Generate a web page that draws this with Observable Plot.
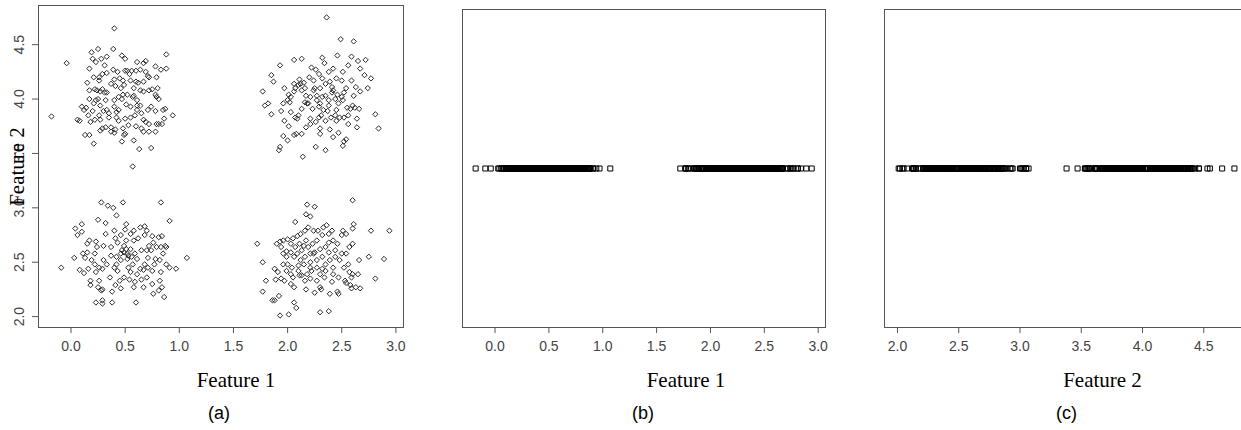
<!DOCTYPE html>
<html>
<head>
<meta charset="utf-8">
<script src="https://cdn.jsdelivr.net/npm/d3@7"></script>
<script src="https://cdn.jsdelivr.net/npm/@observablehq/plot@0.6"></script>
<style>
  html, body { margin: 0; padding: 0; background: #fff; overflow: hidden; }
  #wrap { position: relative; width: 1241px; height: 430px; overflow: hidden; background: #fff; }
  #wrap svg { position: absolute; top: 0; }
</style>
</head>
<body>
<div id="wrap"></div>
<script>
// ---- data: [Feature 1, Feature 2] per point ----
const clusterUpperLeft = [
  [0.40,4.65],[0.19,4.43],[0.39,4.46],[0.25,4.46],[0.88,4.41],[0.20,4.37],[0.28,4.37],[0.47,4.40],
  [0.50,4.37],[0.33,4.39],[-0.04,4.33],[0.17,4.28],[0.23,4.34],[0.61,4.34],[0.67,4.33],[0.69,4.35],
  [0.78,4.30],[0.88,4.28],[0.83,4.27],[0.31,4.31],[0.33,4.24],[0.43,4.25],[0.50,4.26],[0.52,4.26],
  [0.56,4.26],[0.60,4.26],[0.54,4.23],[0.64,4.27],[0.69,4.25],[0.71,4.21],[0.72,4.20],[0.21,4.20],
  [0.26,4.20],[0.39,4.27],[0.29,4.23],[0.45,4.19],[0.48,4.17],[0.40,4.18],[0.55,4.17],[0.60,4.16],
  [0.62,4.15],[0.67,4.16],[0.79,4.20],[0.26,4.17],[0.37,4.14],[0.24,4.08],[0.15,4.15],[0.29,4.09],
  [0.41,4.12],[0.49,4.13],[0.58,4.10],[0.17,4.08],[0.22,4.09],[0.27,4.07],[0.31,4.06],[0.33,4.06],
  [0.46,4.10],[0.52,4.04],[0.57,4.02],[0.58,4.03],[0.61,3.99],[0.64,4.08],[0.67,4.07],[0.75,4.09],
  [0.78,4.04],[0.79,4.02],[0.81,4.00],[0.80,4.10],[0.72,4.08],[0.23,3.99],[0.17,4.00],[0.10,3.93],
  [0.14,3.92],[0.21,3.96],[0.25,4.00],[0.44,4.02],[0.47,4.00],[0.40,3.99],[0.48,4.04],[0.32,3.99],
  [0.12,3.90],[0.20,3.89],[0.27,3.94],[0.33,3.90],[0.40,3.93],[0.44,3.90],[0.51,3.95],[0.55,3.93],
  [0.61,3.94],[0.61,3.90],[0.64,3.94],[0.65,3.87],[0.71,3.90],[0.74,3.93],[0.78,3.89],[0.85,3.90],
  [0.87,3.91],[0.30,3.89],[0.35,3.87],[0.42,3.88],[0.26,3.85],[0.06,3.81],[0.08,3.80],[0.22,3.81],
  [0.16,3.85],[0.35,3.83],[0.42,3.83],[0.44,3.80],[0.50,3.82],[0.55,3.83],[0.59,3.85],[0.67,3.81],
  [0.69,3.79],[0.79,3.77],[0.81,3.77],[0.84,3.77],[0.86,3.82],[0.94,3.85],[0.18,3.79],[0.27,3.81],
  [0.29,3.73],[0.32,3.74],[0.37,3.74],[0.41,3.72],[0.48,3.73],[0.53,3.76],[0.60,3.75],[0.65,3.73],
  [0.72,3.77],[0.27,3.71],[0.37,3.70],[0.40,3.69],[0.49,3.67],[0.50,3.68],[0.67,3.70],[0.72,3.70],
  [0.78,3.70],[0.17,3.67],[0.13,3.67],[0.21,3.59],[0.47,3.61],[0.58,3.62],[0.63,3.54],[0.74,3.55],
  [0.57,3.38],[-0.18,3.84]
];
const clusterUpperRight = [
  [2.36,4.75],[2.49,4.55],[2.61,4.53],[2.32,4.38],[2.06,4.36],[2.13,4.37],[1.93,4.31],[1.85,4.22],
  [1.77,4.07],[1.79,3.94],[1.82,3.96],[1.85,3.86],[1.87,4.16],[1.97,4.10],[2.03,4.02],[2.06,4.07],
  [2.10,4.13],[2.13,4.08],[2.17,4.03],[2.22,4.29],[2.26,4.27],[2.34,4.33],[2.38,4.25],[2.42,4.28],
  [2.46,4.40],[2.51,4.25],[2.56,4.31],[2.59,4.39],[2.65,4.35],[2.72,4.36],[2.67,4.28],[2.71,4.22],
  [2.59,4.17],[2.63,4.11],[2.61,4.03],[2.54,4.10],[2.50,4.17],[2.45,4.19],[2.41,4.11],[2.32,4.19],
  [2.29,4.23],[2.24,4.17],[2.20,4.20],[2.15,4.15],[2.11,4.18],[2.07,4.10],[2.01,4.04],[2.00,3.99],
  [1.94,3.89],[1.97,3.80],[2.01,3.75],[2.07,3.83],[2.08,3.68],[2.10,3.85],[2.13,3.91],[2.16,3.97],
  [2.19,3.96],[2.23,3.91],[2.27,3.99],[2.29,3.93],[2.32,4.02],[2.35,4.03],[2.38,3.99],[2.41,4.06],
  [2.44,4.00],[2.47,3.96],[2.51,3.99],[2.55,3.92],[2.58,3.91],[2.62,3.92],[2.64,3.82],[2.66,3.91],
  [2.56,3.85],[2.48,3.83],[2.45,3.80],[2.40,3.83],[2.35,3.80],[2.31,3.85],[2.26,3.79],[2.21,3.77],
  [2.17,3.74],[2.13,3.68],[2.06,3.67],[2.00,3.62],[1.96,3.66],[1.93,3.56],[1.92,3.53],[2.14,3.47],
  [2.26,3.56],[2.35,3.53],[2.51,3.57],[2.52,3.61],[2.54,3.63],[2.47,3.69],[2.39,3.72],[2.30,3.68],
  [2.30,3.73],[2.42,3.65],[2.81,3.86],[2.84,3.73],[2.64,3.74],[2.56,3.77],[2.52,3.83],[2.44,3.85],
  [2.37,3.89],[2.30,3.96],[2.21,4.02],[2.16,4.10],[2.12,4.14],[2.06,4.14],[2.02,3.97],[1.96,3.96],
  [2.09,3.82],[2.03,3.88],[2.21,3.82],[2.29,3.83],[2.33,3.90],[2.46,4.04],[2.50,4.02],[2.60,3.94],
  [2.67,4.07],[2.74,4.10],[2.52,4.06],[2.24,4.08],[2.25,4.10],[2.39,4.16],[2.42,4.08],[2.45,3.90],
  [2.18,3.96],[2.77,4.19],[2.30,4.10],[2.35,4.14],[2.27,4.03],[2.38,3.94]
];
const clusterLowerLeft = [
  [0.28,3.05],[0.48,3.05],[0.83,3.05],[0.34,3.02],[0.39,3.00],[0.42,2.93],[0.25,2.89],[0.10,2.85],
  [0.04,2.81],[0.06,2.75],[0.32,2.86],[0.15,2.67],[0.13,2.54],[0.03,2.54],[-0.09,2.45],[0.12,2.40],
  [0.18,2.29],[0.23,2.13],[0.29,2.12],[0.29,2.15],[0.38,2.13],[0.60,2.13],[0.76,2.21],[0.86,2.18],
  [0.81,2.24],[0.91,2.88],[0.84,2.74],[0.91,2.45],[0.97,2.44],[1.07,2.54],[0.10,2.78],[0.51,2.85],
  [0.50,2.80],[0.55,2.76],[0.64,2.82],[0.68,2.83],[0.70,2.79],[0.68,2.75],[0.62,2.72],[0.58,2.70],
  [0.51,2.70],[0.46,2.75],[0.41,2.72],[0.37,2.64],[0.30,2.65],[0.23,2.69],[0.17,2.70],[0.24,2.64],
  [0.22,2.58],[0.15,2.59],[0.22,2.48],[0.26,2.45],[0.23,2.41],[0.29,2.44],[0.33,2.48],[0.40,2.45],
  [0.43,2.42],[0.42,2.55],[0.37,2.56],[0.47,2.61],[0.52,2.58],[0.55,2.62],[0.59,2.58],[0.61,2.53],
  [0.57,2.48],[0.53,2.45],[0.55,2.41],[0.61,2.39],[0.64,2.44],[0.68,2.48],[0.71,2.54],[0.74,2.61],
  [0.72,2.65],[0.76,2.68],[0.79,2.64],[0.81,2.73],[0.83,2.64],[0.85,2.58],[0.82,2.52],[0.77,2.48],
  [0.75,2.42],[0.70,2.36],[0.65,2.34],[0.59,2.32],[0.54,2.34],[0.49,2.36],[0.45,2.33],[0.46,2.26],
  [0.41,2.29],[0.36,2.36],[0.26,2.33],[0.25,2.27],[0.18,2.33],[0.29,2.25],[0.67,2.27],[0.58,2.27],
  [0.38,2.23],[0.42,2.48],[0.52,2.53],[0.49,2.65],[0.65,2.61],[0.83,2.41],[0.82,2.33],[0.84,2.27],
  [0.75,2.30],[0.30,2.52],[0.19,2.52],[0.08,2.43],[0.16,2.44],[0.28,2.24],[0.67,2.43],[0.75,2.74],
  [0.32,2.76],[0.43,2.68],[0.58,2.79],[0.40,2.79],[0.70,2.61],[0.46,2.52],[0.11,2.58],[0.87,2.65],
  [0.88,2.64],[0.88,2.48],[0.78,2.53],[0.71,2.45],[0.49,2.59],[0.53,2.56],[0.56,2.55],[0.46,2.58],
  [0.51,2.62]
];
const clusterLowerRight = [
  [2.60,3.07],[2.18,3.03],[2.25,3.01],[2.17,2.94],[2.21,2.92],[2.07,2.87],[2.61,2.85],[2.60,2.81],
  [2.51,2.79],[2.77,2.79],[2.94,2.79],[2.89,2.53],[2.81,2.35],[2.67,2.26],[2.63,2.27],[2.59,2.26],
  [2.58,2.29],[2.54,2.31],[1.72,2.67],[1.77,2.50],[1.80,2.33],[1.77,2.23],[1.88,2.44],[1.89,2.34],
  [1.86,2.15],[1.88,2.15],[1.92,2.19],[1.93,2.01],[2.01,2.02],[2.06,2.13],[2.08,2.08],[2.30,2.04],
  [2.38,2.05],[2.46,2.23],[2.47,2.21],[2.39,2.21],[2.31,2.25],[2.25,2.22],[2.17,2.25],[2.11,2.38],
  [2.05,2.36],[1.97,2.33],[1.94,2.35],[1.91,2.41],[1.99,2.42],[2.03,2.39],[2.10,2.42],[2.13,2.38],
  [2.18,2.39],[2.22,2.42],[2.27,2.45],[2.32,2.44],[2.35,2.48],[2.39,2.52],[2.44,2.55],[2.48,2.52],
  [2.52,2.45],[2.56,2.48],[2.57,2.41],[2.60,2.39],[2.59,2.36],[2.53,2.33],[2.47,2.36],[2.41,2.32],
  [2.34,2.36],[2.27,2.33],[2.21,2.35],[2.16,2.33],[2.12,2.52],[2.16,2.55],[2.21,2.58],[2.25,2.59],
  [2.30,2.62],[2.35,2.64],[2.38,2.68],[2.42,2.70],[2.46,2.67],[2.50,2.75],[2.54,2.76],[2.57,2.64],
  [2.60,2.67],[2.54,2.58],[2.50,2.58],[2.44,2.61],[2.38,2.59],[2.32,2.55],[2.27,2.52],[2.21,2.50],
  [2.15,2.48],[2.10,2.47],[2.06,2.55],[2.03,2.59],[1.99,2.60],[1.94,2.64],[1.90,2.67],[1.93,2.69],
  [1.96,2.70],[2.00,2.71],[2.05,2.72],[2.09,2.74],[2.12,2.76],[2.16,2.79],[2.19,2.82],[2.24,2.79],
  [2.28,2.79],[2.33,2.82],[2.36,2.84],[2.41,2.79],[2.38,2.76],[2.32,2.75],[2.27,2.70],[2.23,2.67],
  [2.19,2.64],[2.15,2.65],[2.11,2.67],[2.07,2.64],[2.03,2.67],[1.99,2.55],[1.96,2.48],[2.00,2.48],
  [2.04,2.45],[2.13,2.61],[2.17,2.70],[2.75,2.55],[2.66,2.52],[2.65,2.39],[2.42,2.45],[2.35,2.42],
  [2.30,2.39],[2.24,2.58],[2.09,2.58],[1.96,2.58],[2.03,2.30],[2.06,2.27],[2.30,2.27],[2.42,2.39],
  [2.21,2.45]
];
const feature1Ticks = [0.0, 0.5, 1.0, 1.5, 2.0, 2.5, 3.0];
const feature2Ticks = [2.0, 2.5, 3.0, 3.5, 4.0, 4.5];
const axisTitles = ["Feature 1", "Feature 1", "Feature 2"];
const panelLabels = ["(a)", "(b)", "(c)"];

// ---- derived tables ----
const points = [...clusterUpperLeft, ...clusterUpperRight, ...clusterLowerLeft, ...clusterLowerRight];
const feature1 = points.map(d => d[0]);
const feature2 = points.map(d => d[1]);

const sans = "'Liberation Sans Narrow', 'Liberation Sans', Arial, sans-serif";
const serif = "'Liberation Serif', 'Times New Roman', serif";
const baseStyle = {fontFamily: sans, fontSize: "14px", background: "white", overflow: "visible"};
const fmt = d => d.toFixed(1);

function titleMarks(title, label, titleDx, labelDx) {
  return [
    Plot.text([title], {frameAnchor: "bottom", textAnchor: "middle", lineAnchor: "middle",
      dx: titleDx, dy: 53, fontFamily: serif, fontSize: 21, fill: "black"}),
    Plot.text([label], {frameAnchor: "bottom", textAnchor: "middle", lineAnchor: "middle",
      dx: labelDx, dy: 86, fontFamily: "'Liberation Sans', Arial, sans-serif", fontSize: 18, fill: "black"})
  ];
}

function xAxis(ticks) {
  return Plot.axisX({ticks, tickSize: 6, tickPadding: 8, tickFormat: fmt,
    stroke: "#555", fill: "#444", label: null});
}

// Panel (a): scatter
const panelA = Plot.plot({
  width: 420, height: 430,
  marginLeft: 38, marginRight: 17, marginTop: 5, marginBottom: 103,
  x: {domain: [-0.30, 3.07]},
  y: {domain: [1.90, 4.86]},
  style: baseStyle,
  marks: [
    Plot.dot(points, {x: d => d[0], y: d => d[1], symbol: "diamond2", r: 2.4,
      stroke: "#2a2a2a", strokeWidth: 1}),
    Plot.frame({stroke: "#555"}),
    xAxis(feature1Ticks),
    Plot.axisY({ticks: feature2Ticks, tickSize: 6, tickFormat: () => "", stroke: "#555", label: null}),
    Plot.text(feature2Ticks, {y: d => d, text: fmt, frameAnchor: "left", textAnchor: "middle",
      lineAnchor: "middle", dx: -19, rotate: -90, fill: "#444"}),
    Plot.text(["Feature 2"], {frameAnchor: "left", textAnchor: "middle", lineAnchor: "middle",
      dx: -21, rotate: -90, fontFamily: serif, fontSize: 21, fill: "black"}),
    ...titleMarks(axisTitles[0], panelLabels[0], 15, -2)
  ]
});

// Panel (b): Feature 1 strip
const panelB = Plot.plot({
  width: 420, height: 430,
  marginLeft: 42, marginRight: 15, marginTop: 9, marginBottom: 103,
  x: {domain: [-0.302, 3.068]},
  style: baseStyle,
  marks: [
    Plot.dot(feature1, {x: d => d, symbol: "square2", r: 3.2, stroke: "black", strokeWidth: 1}),
    Plot.frame({stroke: "#555"}),
    xAxis(feature1Ticks),
    ...titleMarks(axisTitles[1], panelLabels[1], 42, -1)
  ]
});

// Panel (c): Feature 2 strip
const panelC = Plot.plot({
  width: 420, height: 430,
  marginLeft: 44, marginRight: 12, marginTop: 9, marginBottom: 103,
  x: {domain: [1.894, 4.865]},
  style: baseStyle,
  marks: [
    Plot.dot(feature2, {x: d => d, symbol: "square2", r: 3.2, stroke: "black", strokeWidth: 1}),
    Plot.frame({stroke: "#555"}),
    xAxis(feature2Ticks),
    ...titleMarks(axisTitles[2], panelLabels[2], 36, 0)
  ]
});

const wrap = document.getElementById("wrap");
[[panelA, 0], [panelB, 420], [panelC, 840]].forEach(([svg, left]) => {
  svg.style.left = left + "px";
  wrap.appendChild(svg);
});
</script>
</body>
</html>
